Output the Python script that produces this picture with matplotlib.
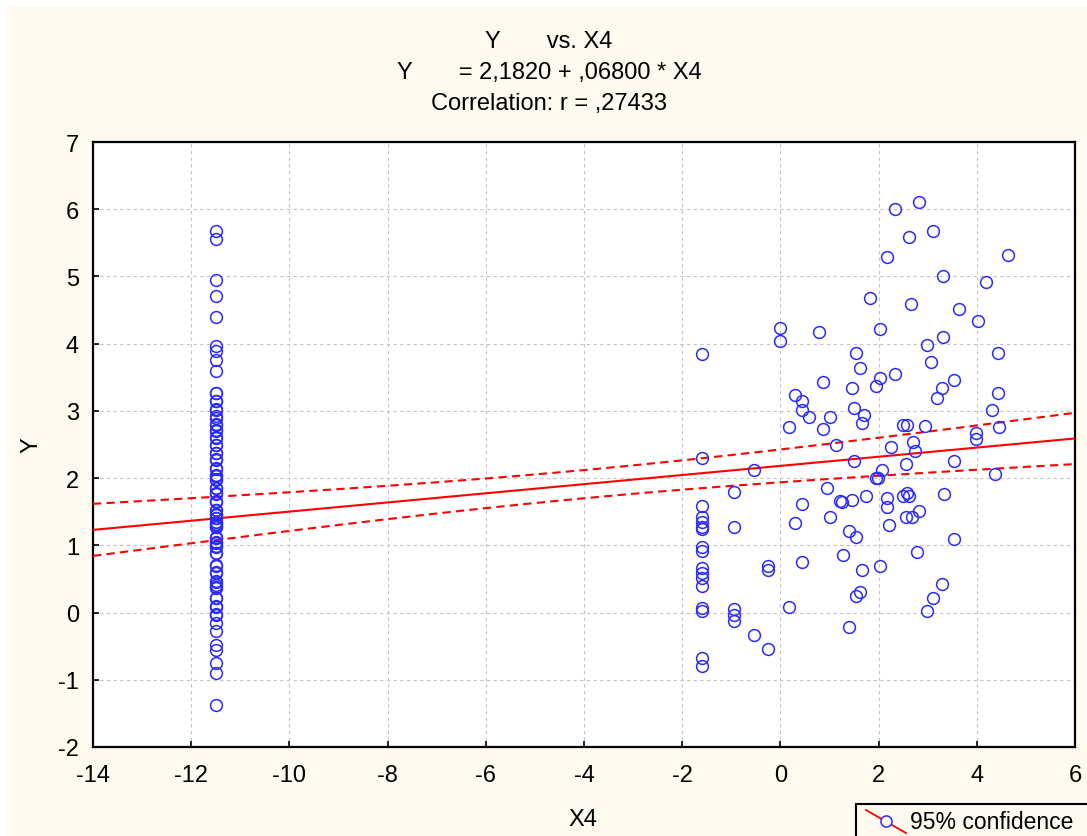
#!/usr/bin/env python3
# -*- coding: utf-8 -*-

import numpy as np
import matplotlib
matplotlib.use('Agg')
import matplotlib.pyplot as plt
from matplotlib.patches import Rectangle
from matplotlib.lines import Line2D

#------------------------------------------------------------------------------
# Data
#------------------------------------------------------------------------------
# Group at X4 = -11.5 (many cases sit on top of each other)
x4_left = -11.5
y_left = [5.67, 5.55, 4.94, 4.71, 4.39, 3.96, 3.89, 3.75, 3.59, 3.27,
          3.14, 3.03, 2.92, 2.79, 2.72, 2.61, 2.49, 2.38, 2.27, 2.15,
          2.03, 1.98, 1.86, 1.78, 1.66, 1.53, 1.46, 1.41, 1.35, 1.31,
          1.28, 1.11, 1.05, 0.99, 0.89, 0.71, 0.59, 0.47, 0.41, 0.37,
          0.22, 0.09, -0.03, -0.15, -0.28, -0.48, -0.55, -0.75, -0.90,
          -1.37,
          3.26, 3.15, 3.02, 2.90, 2.80, 2.70, 2.60, 2.50, 2.37, 2.28,
          2.14, 2.04, 1.97, 1.85, 1.77, 1.65, 1.52, 1.45, 1.40, 1.34,
          1.30, 1.27, 1.12, 1.04, 0.98, 0.88, 0.70, 0.60, 0.46, 0.38,
          0.21, 0.10, -0.02]

# Group at X4 = -1.6
x4_mid = -1.6
y_mid = [3.84, 2.30, 1.59, 1.42, 1.35, 1.28, 1.24, 0.98, 0.92, 0.66,
         0.59, 0.52, 0.39, 0.07, 0.02, -0.67, -0.80]

# Scattered cases
x4_cloud = [-0.94, -0.94, -0.94, -0.94, -0.94, -0.53, -0.53, -0.26, -0.26,
            -0.26, -0.01, -0.01, 0.18, 0.18, 0.30, 0.30, 0.45, 0.45, 0.45,
            0.45, 0.58, 0.78, 0.86, 0.86, 0.94, 1.02, 1.02, 1.13, 1.22,
            1.28,
            2.34, 2.82, 3.10, 2.62, 4.63, 2.18, 3.31, 4.19, 1.82, 2.66,
            3.63, 4.03, 2.02, 3.31, 2.98, 1.54, 4.43, 1.62, 3.06, 2.34,
            2.02, 1.94, 1.46, 3.54, 3.30, 3.18, 4.43, 4.30, 1.50, 1.70,
            1.66, 2.49, 2.58, 2.94, 4.46, 3.99, 3.99, 2.26, 2.70, 2.74,
            1.50, 3.54, 2.55, 2.06, 1.94, 1.99, 4.38, 1.26, 1.46, 1.75,
            2.18, 2.18, 2.49, 2.58, 2.62, 3.34, 2.22, 2.55, 2.68, 2.82,
            1.39, 1.54, 3.54, 2.78, 2.02, 1.66, 3.30, 1.63, 1.54, 3.10,
            2.98, 1.39]
y_cloud = [1.80, 1.28, 0.05, -0.03, -0.13, 2.12, -0.33, 0.70, 0.63,
           -0.54, 4.24, 4.04, 2.76, 0.08, 3.23, 1.33, 3.14, 3.02, 1.62,
           0.75, 2.91, 4.17, 3.43, 2.73, 1.86, 2.91, 1.42, 2.50, 1.66,
           0.86,
           6.00, 6.11, 5.67, 5.59, 5.32, 5.29, 5.00, 4.92, 4.68, 4.59,
           4.51, 4.34, 4.22, 4.10, 3.98, 3.86, 3.86, 3.64, 3.72, 3.55,
           3.49, 3.37, 3.34, 3.46, 3.34, 3.19, 3.26, 3.02, 3.05, 2.94,
           2.82, 2.79, 2.79, 2.77, 2.76, 2.67, 2.58, 2.47, 2.53, 2.41,
           2.26, 2.26, 2.21, 2.12, 2.00, 2.00, 2.06, 1.65, 1.68, 1.74,
           1.71, 1.57, 1.74, 1.78, 1.73, 1.77, 1.30, 1.42, 1.42, 1.51,
           1.22, 1.13, 1.10, 0.90, 0.69, 0.64, 0.43, 0.31, 0.25, 0.22,
           0.02, -0.21]

# Regression Y = a + b * X4
intercept = 2.1820
slope = 0.06800
correlation = 0.27433

# Axis ticks
x_ticks = [-14, -12, -10, -8, -6, -4, -2, 0, 2, 4, 6]
y_ticks = [-2, -1, 0, 1, 2, 3, 4, 5, 6, 7]

#------------------------------------------------------------------------------
# Main
#------------------------------------------------------------------------------
def main():

  # Collect all cases
  x = np.concatenate([np.full(len(y_left), x4_left),
                      np.full(len(y_mid), x4_mid),
                      np.array(x4_cloud)])
  y = np.concatenate([np.array(y_left), np.array(y_mid), np.array(y_cloud)])

  # Plot
  plot_scatter(x, y)
#------------------------------------------------------------------------------

#------------------------------------------------------------------------------
# Get 95% confidence band of the regression line
#------------------------------------------------------------------------------
def get_band(x, y, x_line):

  # Residual standard error
  n = len(x)
  residual = y - (intercept + slope * x)
  s = np.sqrt(np.sum(residual ** 2) / (n - 2))

  # Spread of X4
  x_mean = np.mean(x)
  sxx = np.sum((x - x_mean) ** 2)

  # Half width
  half = 1.972 * s * np.sqrt(1.0 / n + (x_line - x_mean) ** 2 / sxx)

  # Return
  y_line = intercept + slope * x_line
  return y_line - half, y_line + half
#------------------------------------------------------------------------------

#------------------------------------------------------------------------------
# Plot scatter
#------------------------------------------------------------------------------
def plot_scatter(x, y):

  # Font
  plt.rcParams['font.family'] = ['Liberation Sans', 'DejaVu Sans']
  plt.rcParams['font.size'] = 17
  plt.rcParams['axes.unicode_minus'] = False

  # Make new window
  fig = plt.figure(figsize = (10.87, 8.37), dpi = 100, facecolor = 'white')
  cream = '#fefaf0'
  fig.patches.append(Rectangle((6.0 / 1087, 0.0), 1.0, 1.0 - 8.0 / 837,
                               transform = fig.transFigure,
                               facecolor = cream, edgecolor = 'none',
                               zorder = -10))

  ax = fig.add_axes([93.0 / 1087, 1.0 - 748.0 / 837,
                     982.0 / 1087, 605.0 / 837])
  ax.set_facecolor('white')

  # Grid
  ax.grid(True, color = '#c4c4c4', linestyle = (0, (3, 3)), linewidth = 0.8)
  ax.set_axisbelow(True)

  # Regression line and band
  x_line = np.linspace(-14, 6, 200)
  lower, upper = get_band(x, y, x_line)
  ax.plot(x_line, intercept + slope * x_line, color = '#ff0000',
          linewidth = 1.5, zorder = 3)
  ax.plot(x_line, upper, color = '#ff0000', linewidth = 1.5,
          linestyle = (0, (4, 2.5)), zorder = 3)
  ax.plot(x_line, lower, color = '#ff0000', linewidth = 1.5,
          linestyle = (0, (4, 2.5)), zorder = 3)

  # Points
  ax.plot(x, y, linestyle = 'none', marker = 'o', markersize = 8.5,
          markerfacecolor = 'none', markeredgecolor = '#2a2aff',
          markeredgewidth = 1.1, zorder = 4)

  # Axes
  ax.set_xlim(-14, 6)
  ax.set_ylim(-2, 7)
  ax.set_xticks(x_ticks)
  ax.set_yticks(y_ticks)
  ax.tick_params(direction = 'in', length = 4, width = 1.2, labelsize = 17)
  ax.tick_params(axis = 'x', pad = 12)
  ax.tick_params(axis = 'y', pad = 10)
  for spine in ax.spines.values():
    spine.set_linewidth(1.6)
    spine.set_color('black')

  # Set axes label
  fig.text(583.0 / 1087, 1.0 - 820.0 / 837, 'X4', ha = 'center',
           va = 'center', fontsize = 17)
  fig.text(32.0 / 1087, 1.0 - 445.0 / 837, 'Y', ha = 'center',
           va = 'center', rotation = 90, fontsize = 17)

  # Title lines
  xc = 549.0 / 1087
  fig.text(xc, 1.0 - 42.0 / 837, 'Y       vs. X4', ha = 'center',
           va = 'center', fontsize = 17)
  fig.text(xc, 1.0 - 73.0 / 837,
           'Y       = %s + %s * X4' % (format_num(intercept, 4),
                                       format_num(slope, 5)),
           ha = 'center', va = 'center', fontsize = 17)
  fig.text(xc, 1.0 - 104.0 / 837,
           'Correlation: r = %s' % format_num(correlation, 5),
           ha = 'center', va = 'center', fontsize = 17)

  # Legend box, partly off the page
  fig.patches.append(Rectangle((856.0 / 1087, -0.05), 0.3,
                               0.05 + 32.0 / 837,
                               transform = fig.transFigure,
                               facecolor = cream, edgecolor = 'black',
                               linewidth = 1.5, zorder = 5))
  fig.lines.append(Line2D([866.0 / 1087, 906.0 / 1087],
                          [1.0 - 811.0 / 837, 1.0 - 834.0 / 837],
                          transform = fig.transFigure, color = '#ff0000',
                          linewidth = 1.3, zorder = 6))
  fig.lines.append(Line2D([886.0 / 1087], [1.0 - 822.0 / 837],
                          transform = fig.transFigure, linestyle = 'none',
                          marker = 'o', markersize = 8.0,
                          markerfacecolor = cream,
                          markeredgecolor = '#2a2aff',
                          markeredgewidth = 1.1, zorder = 7))
  fig.text(910.0 / 1087, 1.0 - 823.0 / 837, '95% confidence',
           ha = 'left', va = 'center', fontsize = 16.5, zorder = 8)

  # Save figure
  fig.savefig('out.png', dpi = 100, facecolor = 'white')

  # Close figure
  plt.close(fig)
#------------------------------------------------------------------------------

#------------------------------------------------------------------------------
# Format number with comma decimal, no leading zero
#------------------------------------------------------------------------------
def format_num(value, digits):

  text = ('%.' + str(digits) + 'f') % value
  if text.startswith('0.'):
    text = text[1:]
  return text.replace('.', ',')
#------------------------------------------------------------------------------

#------------------------------------------------------------------------------
# Call main
#------------------------------------------------------------------------------
if __name__ == '__main__':
  main()
#------------------------------------------------------------------------------
